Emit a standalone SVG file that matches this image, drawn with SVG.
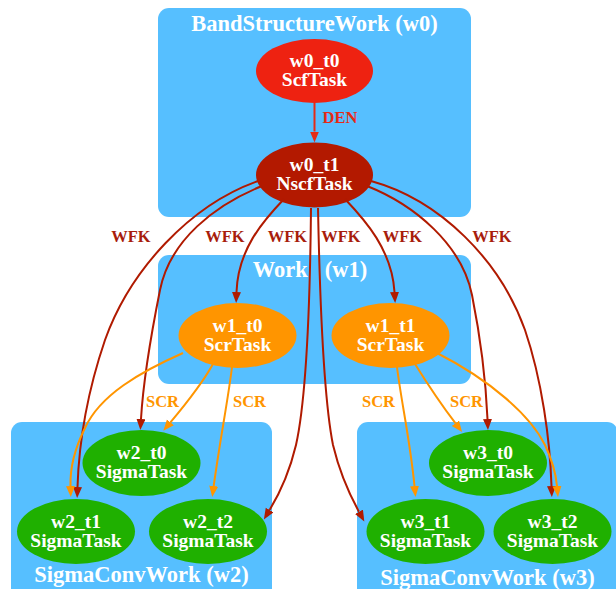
<svg xmlns="http://www.w3.org/2000/svg" width="616" height="589" viewBox="0 0 616 589">
<style>
.cl{fill:#56bfff;stroke:none}
.ct{font-family:"Liberation Serif","Times New Roman",serif;font-weight:bold;font-size:22.5px;fill:#ffffff;text-anchor:middle;white-space:pre}
.nt{font-family:"Liberation Serif","Times New Roman",serif;font-weight:bold;font-size:19.5px;fill:#ffffff;text-anchor:middle}
.el{font-family:"Liberation Serif","Times New Roman",serif;font-weight:bold;font-size:16.5px;text-anchor:middle}
.wfk{fill:none;stroke:#b01a00;stroke-width:2}
.scr{fill:none;stroke:#ff9500;stroke-width:2}
.den{fill:none;stroke:#e52a15;stroke-width:2}
</style>
<defs>
<marker id="aw" markerUnits="userSpaceOnUse" markerWidth="12" markerHeight="10" refX="0" refY="4.5" orient="auto"><path d="M0,0 L11,4.5 L0,9 z" fill="#b01a00"/></marker>
<marker id="as" markerUnits="userSpaceOnUse" markerWidth="12" markerHeight="10" refX="0" refY="4.5" orient="auto"><path d="M0,0 L11,4.5 L0,9 z" fill="#ff9500"/></marker>
<marker id="ad" markerUnits="userSpaceOnUse" markerWidth="12" markerHeight="10" refX="0" refY="4.5" orient="auto"><path d="M0,0 L11,4.5 L0,9 z" fill="#e52a15"/></marker>
</defs>
<g id="clusters">
<g id="cluster_w0"><rect class="cl" x="158" y="8" width="313" height="209" rx="11"/><text class="ct" x="314.5" y="31">BandStructureWork (w0)</text></g>
<g id="cluster_w1"><rect class="cl" x="158" y="255" width="313" height="129" rx="11"/><text class="ct" x="310" y="277" xml:space="preserve">Work   (w1)</text></g>
<g id="cluster_w2"><rect class="cl" x="11" y="422" width="261" height="180" rx="11"/><text class="ct" x="141.5" y="581.5">SigmaConvWork (w2)</text></g>
<g id="cluster_w3"><rect class="cl" x="357" y="422" width="261" height="180" rx="11"/><text class="ct" x="487.5" y="585">SigmaConvWork (w3)</text></g>
</g>
<g id="w0_t0"><ellipse cx="314.5" cy="71" rx="58.5" ry="32" fill="#ee2211"/><text class="nt" x="314.5" y="67">w0_t0</text><text class="nt" x="314.5" y="86">ScfTask</text></g>
<g id="w0_t1"><ellipse cx="314.5" cy="175" rx="58.5" ry="32.5" fill="#b31900"/><text class="nt" x="314.5" y="171">w0_t1</text><text class="nt" x="314.5" y="190">NscfTask</text></g>
<g id="w1_t0"><ellipse cx="237.5" cy="335.5" rx="59" ry="32.5" fill="#ff9500"/><text class="nt" x="237.5" y="332">w1_t0</text><text class="nt" x="237.5" y="351">ScrTask</text></g>
<g id="w1_t1"><ellipse cx="390.5" cy="335.5" rx="59" ry="32.5" fill="#ff9500"/><text class="nt" x="390.5" y="332">w1_t1</text><text class="nt" x="390.5" y="351">ScrTask</text></g>
<g id="w2_t0"><ellipse cx="141.5" cy="463" rx="59" ry="33" fill="#1fb000"/><text class="nt" x="141.5" y="459">w2_t0</text><text class="nt" x="141.5" y="478">SigmaTask</text></g>
<g id="w2_t1"><ellipse cx="76" cy="531.5" rx="59" ry="32.5" fill="#1fb000"/><text class="nt" x="76" y="527.5">w2_t1</text><text class="nt" x="76" y="546.5">SigmaTask</text></g>
<g id="w2_t2"><ellipse cx="208" cy="531.5" rx="59" ry="32.5" fill="#1fb000"/><text class="nt" x="208" y="527.5">w2_t2</text><text class="nt" x="208" y="546.5">SigmaTask</text></g>
<g id="w3_t0"><ellipse cx="488" cy="463" rx="59" ry="33" fill="#1fb000"/><text class="nt" x="488" y="459">w3_t0</text><text class="nt" x="488" y="478">SigmaTask</text></g>
<g id="w3_t1"><ellipse cx="425.5" cy="531.5" rx="59" ry="32.5" fill="#1fb000"/><text class="nt" x="425.5" y="527.5">w3_t1</text><text class="nt" x="425.5" y="546.5">SigmaTask</text></g>
<g id="w3_t2"><ellipse cx="552.5" cy="531.5" rx="59" ry="32.5" fill="#1fb000"/><text class="nt" x="552.5" y="527.5">w3_t2</text><text class="nt" x="552.5" y="546.5">SigmaTask</text></g>
<g id="edges">
<path class="den" d="M314.5,103 L314.5,131.5" marker-end="url(#ad)"/>
<path class="wfk" d="M258,181 C190,205 130,270 105,340 C88,390 79,440 77.5,487" marker-end="url(#aw)"/>
<path class="wfk" d="M262,186 C215,205 170,240 160,290 C150,340 143,385 141,419" marker-end="url(#aw)"/>
<path class="wfk" d="M284,199 C262,222 238,250 236.5,292" marker-end="url(#aw)"/>
<path class="wfk" d="M311,208 C310,310 306,400 296,445 C290,470 283,488 269.6,510" marker-end="url(#aw)"/>
<path class="wfk" d="M318,208 C320,310 324,400 333,445 C339,470 347,490 359,511.8" marker-end="url(#aw)"/>
<path class="wfk" d="M345,199 C365,220 392,250 394.5,292" marker-end="url(#aw)"/>
<path class="wfk" d="M367,186 C415,205 462,245 472,295 C482,345 486,385 487.5,419" marker-end="url(#aw)"/>
<path class="wfk" d="M371,181 C440,200 500,260 525,330 C542,380 550,440 551.5,486" marker-end="url(#aw)"/>
<path class="scr" d="M183,353 C140,372 100,395 85,428 C74,450 70,470 70.5,486" marker-end="url(#as)"/>
<path class="scr" d="M213,364 C203,382 185,405 170.4,422.4" marker-end="url(#as)"/>
<path class="scr" d="M232,367 C228,400 220,440 213.7,486" marker-end="url(#as)"/>
<path class="scr" d="M397,367 C401,400 410,440 414.5,486" marker-end="url(#as)"/>
<path class="scr" d="M415,364 C425,380 440,403 455.4,423.2" marker-end="url(#as)"/>
<path class="scr" d="M437,353 C490,380 530,415 545,445 C553,462 556,475 557,486" marker-end="url(#as)"/>
<text class="el" x="340" y="123" fill="#e52a15">DEN</text>
<text class="el" x="131" y="242" fill="#a81d0c">WFK</text>
<text class="el" x="225" y="242" fill="#a81d0c">WFK</text>
<text class="el" x="287.5" y="242" fill="#a81d0c">WFK</text>
<text class="el" x="341" y="242" fill="#a81d0c">WFK</text>
<text class="el" x="402.5" y="242" fill="#a81d0c">WFK</text>
<text class="el" x="492" y="242" fill="#a81d0c">WFK</text>
<text class="el" x="162.5" y="406.5" fill="#ff9500">SCR</text>
<text class="el" x="249.5" y="406.5" fill="#ff9500">SCR</text>
<text class="el" x="378.5" y="406.5" fill="#ff9500">SCR</text>
<text class="el" x="466.5" y="406.5" fill="#ff9500">SCR</text>
</g>
</svg>
